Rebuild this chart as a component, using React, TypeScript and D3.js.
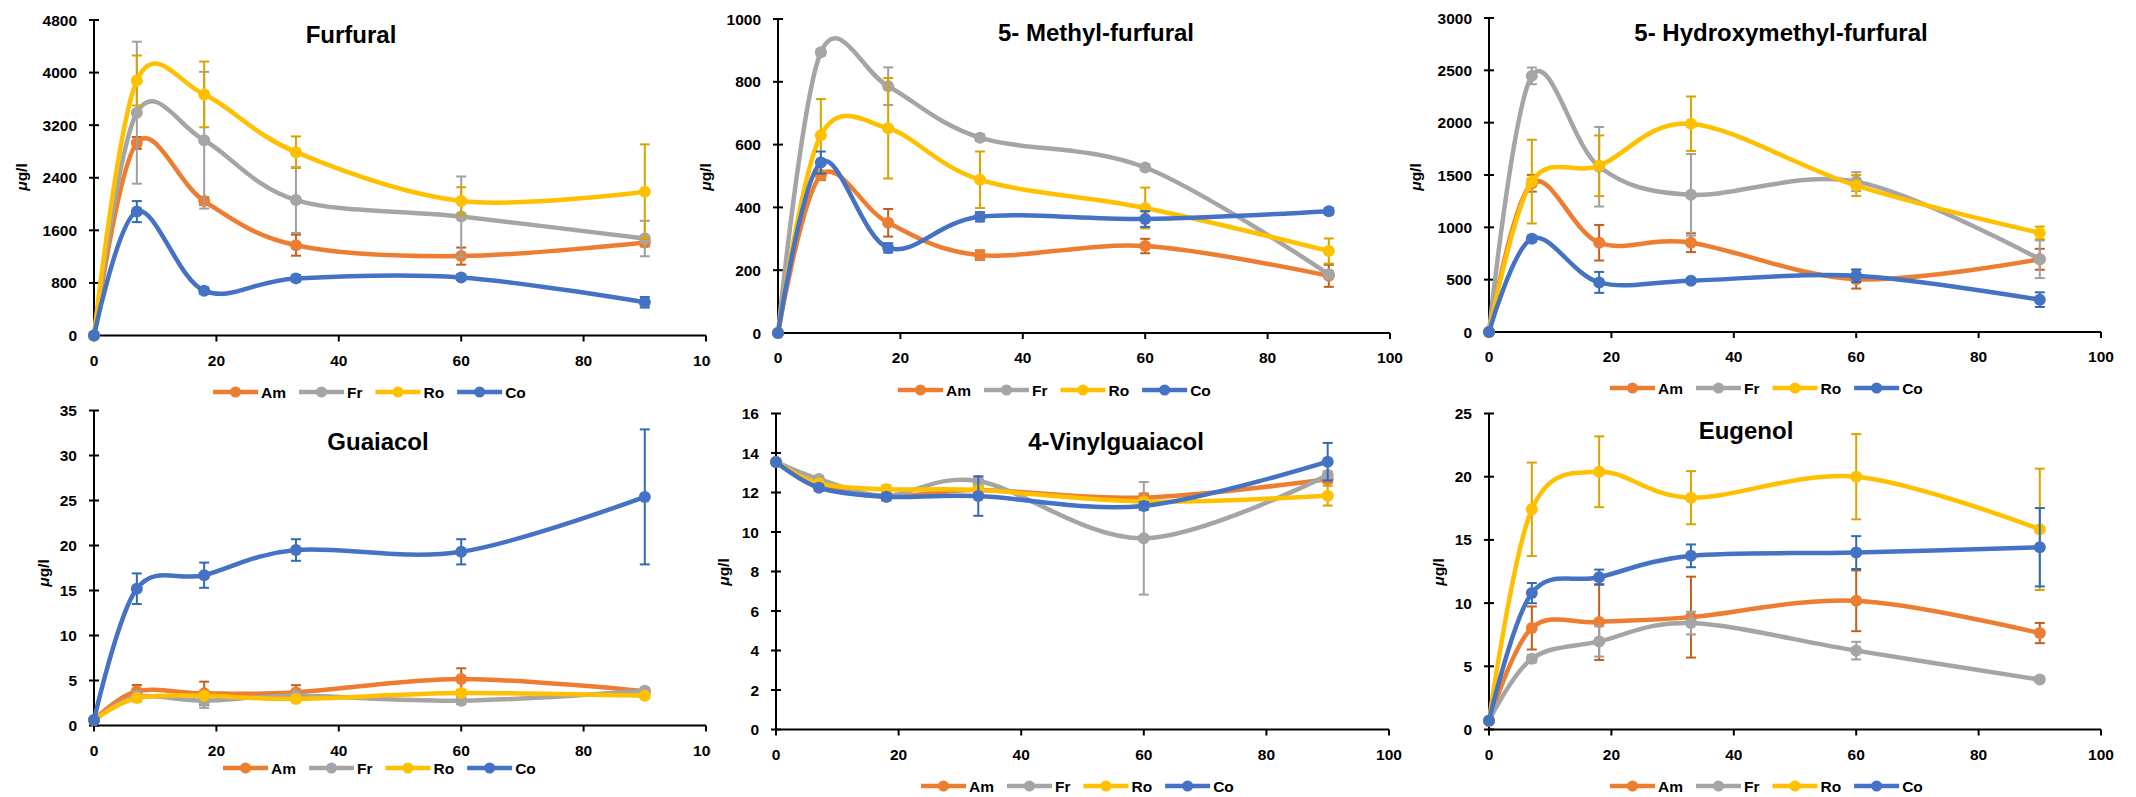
import React from "react";
import * as d3 from "d3";

// sampling days
const days = [0, 7, 18, 33, 60, 90];
const seriesNames = ["Am", "Fr", "Ro", "Co"];
const xTicks = [0, 20, 40, 60, 80, 100];

// Furfural
const furfuralAm = [0, 2930, 2046, 1374, 1208, 1415];
const furfuralFr = [0, 3390, 2971, 2061, 1809, 1475];
const furfuralRo = [0, 3880, 3668, 2789, 2046, 2188];
const furfuralCo = [0, 1885, 682, 869, 884, 505];
const furfuralAmErr = [0, 90, 60, 160, 130, 60];
const furfuralFrErr = [0, 1080, 1040, 500, 610, 270];
const furfuralRoErr = [0, 380, 500, 240, 210, 720];
const furfuralCoErr = [0, 160, 50, 50, 40, 80];
const furfuralTicks = [0, 800, 1600, 2400, 3200, 4000, 4800];

// 5-methyl-furfural
const methylAm = [0, 502, 351, 248, 277, 182];
const methylFr = [0, 894, 786, 622, 527, 187];
const methylRo = [0, 630, 652, 488, 398, 261];
const methylCo = [0, 543, 271, 370, 363, 388];
const methylAmErr = [0, 15, 44, 15, 23, 35];
const methylFrErr = [0, 10, 60, 10, 10, 10];
const methylRoErr = [0, 115, 160, 90, 65, 40];
const methylCoErr = [0, 35, 15, 15, 25, 10];
const methylTicks = [0, 200, 400, 600, 800, 1000];

// 5-hydroxymethyl-furfural
const hmfAm = [0, 1421, 853, 853, 505, 695];
const hmfFr = [0, 2447, 1579, 1311, 1437, 695];
const hmfRo = [0, 1437, 1588, 1990, 1399, 947];
const hmfCo = [0, 891, 474, 490, 537, 309];
const hmfAmErr = [0, 80, 170, 90, 90, 100];
const hmfFrErr = [0, 80, 380, 390, 90, 180];
const hmfRoErr = [0, 400, 290, 260, 100, 60];
const hmfCoErr = [0, 30, 100, 20, 60, 70];
const hmfTicks = [0, 500, 1000, 1500, 2000, 2500, 3000];

// guaiacol
const guaiacolAm = [0.6, 3.8, 3.57, 3.68, 5.16, 3.8];
const guaiacolFr = [0.6, 3.2, 2.76, 3.3, 2.76, 3.87];
const guaiacolRo = [0.6, 3.06, 3.3, 2.95, 3.6, 3.3];
const guaiacolCo = [0.6, 15.2, 16.7, 19.5, 19.3, 25.4];
const guaiacolAmErr = [0, 0.7, 1.3, 0.8, 1.2, 0.3];
const guaiacolFrErr = [0, 0.6, 0.8, 0.4, 0.4, 0.3];
const guaiacolRoErr = [0, 0.3, 0.3, 0.3, 0.3, 0.3];
const guaiacolCoErr = [0, 1.7, 1.4, 1.2, 1.4, 7.5];
const guaiacolTicks = [0, 5, 10, 15, 20, 25, 30, 35];

// 4-vinylguaiacol
const vinylAm = [13.55, 12.38, 11.79, 12.13, 11.74, 12.67];
const vinylFr = [13.55, 12.68, 11.84, 12.58, 9.68, 12.88];
const vinylRo = [13.55, 12.46, 12.16, 12.13, 11.54, 11.84];
const vinylCo = [13.55, 12.24, 11.79, 11.82, 11.32, 13.56];
const vinylAmErr = [0, 0.15, 0.2, 0.2, 0.2, 0.2];
const vinylFrErr = [0, 0.15, 0.2, 0.2, 2.85, 0.2];
const vinylRoErr = [0, 0.15, 0.2, 0.2, 0.2, 0.5];
const vinylCoErr = [0, 0.15, 0.15, 1.0, 0.2, 0.95];
const vinylTicks = [0, 2, 4, 6, 8, 10, 12, 14, 16];

// eugenol
const eugenolAm = [0.7, 8.03, 8.5, 8.89, 10.18, 7.63];
const eugenolFr = [0.7, 5.6, 6.97, 8.42, 6.24, 3.95];
const eugenolRo = [0.7, 17.42, 20.39, 18.34, 20.0, 15.84];
const eugenolCo = [0.7, 10.79, 12.05, 13.74, 14.0, 14.42];
const eugenolAmErr = [0, 1.7, 3.0, 3.2, 2.4, 0.8];
const eugenolFrErr = [0, 0.3, 1.2, 0.9, 0.7, 0.2];
const eugenolRoErr = [0, 3.7, 2.8, 2.1, 3.37, 4.8];
const eugenolCoErr = [0, 0.8, 0.6, 0.9, 1.3, 3.1];
const eugenolTicks = [0, 5, 10, 15, 20, 25];

const lineColors = ["#ED7D31", "#A5A5A5", "#FFC000", "#4472C4"];
const errColors = ["#C0601F", "#A0A0A0", "#D9A400", "#2F6CB3"];

const FONT = "'Liberation Sans', Arial, sans-serif";

type PanelCfg = {
  title: string;
  values: number[][];
  errors: number[][];
  yTicks: number[];
  left: number; right: number; top: number; bottom: number;
  titleX: number; titleY: number;
  legendX: number; legendY: number;
  ylabX: number; ylabY: number;
  bgX: number; bgY: number; bgW: number; bgH: number;
};

const panels: PanelCfg[] = [
  { title: "Furfural", values: [furfuralAm, furfuralFr, furfuralRo, furfuralCo],
    errors: [furfuralAmErr, furfuralFrErr, furfuralRoErr, furfuralCoErr], yTicks: furfuralTicks,
    left: 94, right: 706, top: 20, bottom: 335.5, titleX: 351, titleY: 43,
    legendX: 213, legendY: 392, ylabX: 22, ylabY: 177, bgX: 0, bgY: 0, bgW: 712, bgH: 400 },
  { title: "5- Methyl-furfural", values: [methylAm, methylFr, methylRo, methylCo],
    errors: [methylAmErr, methylFrErr, methylRoErr, methylCoErr], yTicks: methylTicks,
    left: 778, right: 1390, top: 19, bottom: 333, titleX: 1096, titleY: 41,
    legendX: 898, legendY: 390, ylabX: 706, ylabY: 177, bgX: 711, bgY: 0, bgW: 713, bgH: 400 },
  { title: "5- Hydroxymethyl-furfural", values: [hmfAm, hmfFr, hmfRo, hmfCo],
    errors: [hmfAmErr, hmfFrErr, hmfRoErr, hmfCoErr], yTicks: hmfTicks,
    left: 1489, right: 2101, top: 18, bottom: 332, titleX: 1781, titleY: 41,
    legendX: 1610, legendY: 388, ylabX: 1416, ylabY: 177, bgX: 1410, bgY: 0, bgW: 726, bgH: 400 },
  { title: "Guaiacol", values: [guaiacolAm, guaiacolFr, guaiacolRo, guaiacolCo],
    errors: [guaiacolAmErr, guaiacolFrErr, guaiacolRoErr, guaiacolCoErr], yTicks: guaiacolTicks,
    left: 94, right: 706, top: 410.5, bottom: 725.5, titleX: 378, titleY: 450,
    legendX: 223, legendY: 768, ylabX: 44, ylabY: 573, bgX: 0, bgY: 400, bgW: 712, bgH: 397 },
  { title: "4-Vinylguaiacol", values: [vinylAm, vinylFr, vinylRo, vinylCo],
    errors: [vinylAmErr, vinylFrErr, vinylRoErr, vinylCoErr], yTicks: vinylTicks,
    left: 776, right: 1389, top: 413.5, bottom: 729.5, titleX: 1116, titleY: 450,
    legendX: 921, legendY: 786, ylabX: 724, ylabY: 572, bgX: 711, bgY: 400, bgW: 713, bgH: 397 },
  { title: "Eugenol", values: [eugenolAm, eugenolFr, eugenolRo, eugenolCo],
    errors: [eugenolAmErr, eugenolFrErr, eugenolRoErr, eugenolCoErr], yTicks: eugenolTicks,
    left: 1489, right: 2101, top: 413.5, bottom: 729.5, titleX: 1746, titleY: 439,
    legendX: 1610, legendY: 786, ylabX: 1439, ylabY: 572, bgX: 1424, bgY: 400, bgW: 712, bgH: 397 },
];

let measureCtx: CanvasRenderingContext2D | null = null;
function textWidth(s: string, font: string) {
  if (!measureCtx) measureCtx = document.createElement("canvas").getContext("2d");
  if (!measureCtx) return s.length * 9;
  measureCtx.font = font;
  return measureCtx.measureText(s).width;
}

function Panel({ cfg }: { cfg: PanelCfg }) {
  const x = d3.scaleLinear().domain([0, 100]).range([cfg.left, cfg.right]);
  const yMax = cfg.yTicks[cfg.yTicks.length - 1];
  const y = d3.scaleLinear().domain([0, yMax]).range([cfg.bottom, cfg.top]);
  const line = d3
    .line<number>()
    .x((_, i) => x(days[i]))
    .y((d) => y(d))
    .curve(d3.curveCardinal.tension(0));

  const legendFont = `bold 15.5px ${FONT}`;
  let lx = cfg.legendX;
  const legendItems = seriesNames.map((name, i) => {
    const start = lx;
    lx += 45 + 3 + textWidth(name, legendFont) + 13;
    return { name, i, start };
  });

  return (
    <g>
      <rect x={cfg.bgX} y={cfg.bgY} width={cfg.bgW} height={cfg.bgH} fill="#fff" />
      {/* y axis */}
      <line x1={cfg.left} x2={cfg.left} y1={y(yMax)} y2={cfg.bottom} stroke="#000" strokeWidth={2} />
      {cfg.yTicks.map((t) => (
        <g key={"y" + t}>
          <line x1={cfg.left - 5} x2={cfg.left + 5} y1={y(t)} y2={y(t)} stroke="#000" strokeWidth={2} />
          <text x={cfg.left - 17} y={y(t)} dy="0.36em" textAnchor="end" fontFamily={FONT}
            fontWeight="bold" fontSize={15.5} fill="#000">{t}</text>
        </g>
      ))}
      {/* x axis */}
      <line x1={cfg.left} x2={cfg.right} y1={cfg.bottom} y2={cfg.bottom} stroke="#000" strokeWidth={2} />
      {xTicks.map((t) => (
        <g key={"x" + t}>
          <line x1={x(t)} x2={x(t)} y1={cfg.bottom} y2={cfg.bottom + 6} stroke="#000" strokeWidth={2} />
          <text x={x(t)} y={cfg.bottom + 30} textAnchor="middle" fontFamily={FONT}
            fontWeight="bold" fontSize={15.5} fill="#000">{t}</text>
        </g>
      ))}
      {/* y label */}
      <text transform={`translate(${cfg.ylabX},${cfg.ylabY}) rotate(-90)`} textAnchor="middle"
        dy="0.35em" fontFamily={FONT} fontWeight="bold" fontSize={15.5} fill="#000">
        <tspan fontStyle="italic">μ</tspan>g/l
      </text>
      {/* title */}
      <text x={cfg.titleX} y={cfg.titleY} textAnchor="middle" fontFamily={FONT}
        fontWeight="bold" fontSize={24} fill="#000">{cfg.title}</text>
      {/* series */}
      {cfg.values.map((vals, si) => (
        <g key={"s" + si}>
          {vals.map((v, i) => {
            const e = cfg.errors[si][i];
            if (!e) return null;
            const cx = x(days[i]);
            return (
              <g key={i} stroke={errColors[si]} strokeWidth={2}>
                <line x1={cx} x2={cx} y1={y(v - e)} y2={y(v + e)} />
                <line x1={cx - 5} x2={cx + 5} y1={y(v - e)} y2={y(v - e)} />
                <line x1={cx - 5} x2={cx + 5} y1={y(v + e)} y2={y(v + e)} />
              </g>
            );
          })}
          <path d={line(vals) || ""} fill="none" stroke={lineColors[si]} strokeWidth={4.5}
            strokeLinecap="round" strokeLinejoin="round" />
          {vals.map((v, i) => (
            <circle key={i} cx={x(days[i])} cy={y(v)} r={6} fill={lineColors[si]} />
          ))}
        </g>
      ))}
      {/* legend */}
      {legendItems.map(({ name, i, start }) => (
        <g key={"l" + name}>
          <line x1={start} x2={start + 45} y1={cfg.legendY} y2={cfg.legendY} stroke={lineColors[i]}
            strokeWidth={4.5} />
          <circle cx={start + 22.5} cy={cfg.legendY} r={5.5} fill={lineColors[i]} />
          <text x={start + 48} y={cfg.legendY} dy="0.36em" fontFamily={FONT} fontWeight="bold"
            fontSize={15.5} fill="#000">{name}</text>
        </g>
      ))}
    </g>
  );
}

export default function App() {
  return (
    <svg width={2136} height={797} style={{ position: "absolute", left: 0, top: 0, display: "block" }}>
      <rect width={2136} height={797} fill="#fff" />
      {panels.map((p) => (
        <Panel key={p.title} cfg={p} />
      ))}
    </svg>
  );
}
